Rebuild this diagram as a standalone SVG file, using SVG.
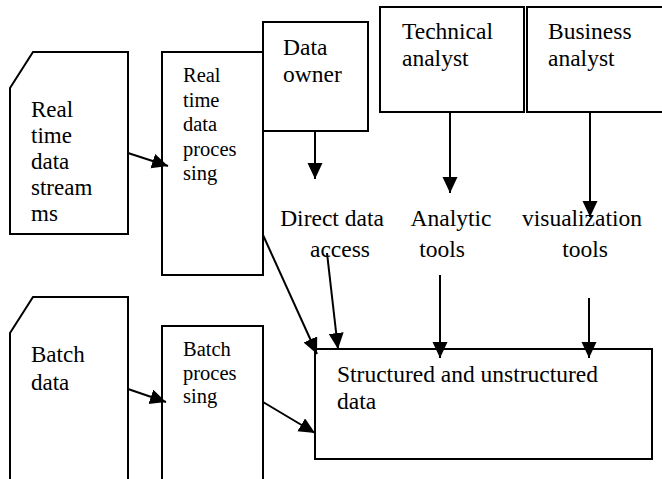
<svg xmlns="http://www.w3.org/2000/svg" width="662" height="479" viewBox="0 0 662 479">
  <style>
    .box { fill: #fff; stroke: #000; stroke-width: 2; }
    text { font-family: 'Liberation Serif', 'Times New Roman', serif; fill: #000; }
    .lg { font-size: 23.5px; }
    .md { font-size: 23px; }
    .sm { font-size: 20.5px; }
    .mid { text-anchor: middle; }
    .edge { fill: none; stroke: #000; stroke-width: 2; marker-end: url(#head); }
  </style>
  <defs>
    <marker id="head" markerUnits="userSpaceOnUse" markerWidth="17" markerHeight="16" refX="16" refY="7.5" orient="auto">
      <path d="M0,0 L16,7.5 L0,15 z" fill="#000"/>
    </marker>
  </defs>
  <rect width="662" height="479" fill="#fff"/>

  <!-- sources -->
  <g id="realtime-streams">
    <polygon class="box" points="33,52 128,52 128,234 10,234 10,88"/>
    <text class="md"><tspan x="31" y="117">Real</tspan><tspan x="31" y="143">time</tspan><tspan x="31" y="169">data</tspan><tspan x="31" y="195">stream</tspan><tspan x="31" y="221">ms</tspan></text>
  </g>
  <g id="batch-data">
    <polygon class="box" points="33,297 128,297 128,492 10,492 10,333"/>
    <text class="md"><tspan x="31" y="362">Batch</tspan><tspan x="31" y="390">data</tspan></text>
  </g>

  <!-- processing -->
  <g id="realtime-processing">
    <rect class="box" x="162" y="52" width="101" height="223"/>
    <text class="sm"><tspan x="183" y="82">Real</tspan><tspan x="183" y="106.5">time</tspan><tspan x="183" y="131">data</tspan><tspan x="183" y="155.5">proces</tspan><tspan x="183" y="180">sing</tspan></text>
  </g>
  <g id="batch-processing">
    <rect class="box" x="162" y="326" width="101" height="166"/>
    <text class="sm"><tspan x="183" y="356">Batch</tspan><tspan x="183" y="380">proces</tspan><tspan x="183" y="403">sing</tspan></text>
  </g>

  <!-- users -->
  <g id="data-owner">
    <rect class="box" x="263" y="22" width="105" height="109"/>
    <text class="lg"><tspan x="283" y="55">Data</tspan><tspan x="283" y="82">owner</tspan></text>
  </g>
  <g id="technical-analyst">
    <rect class="box" x="380" y="7" width="144" height="105"/>
    <text class="lg"><tspan x="402" y="39">Technical</tspan><tspan x="402" y="66">analyst</tspan></text>
  </g>
  <g id="business-analyst">
    <rect class="box" x="527" y="7" width="140" height="105"/>
    <text class="lg"><tspan x="548" y="39">Business</tspan><tspan x="548" y="66">analyst</tspan></text>
  </g>

  <!-- access paths -->
  <g id="direct-access">
    <text class="lg mid"><tspan x="332" y="226">Direct data</tspan><tspan x="340" y="257">access</tspan></text>
  </g>
  <g id="analytic-tools">
    <text class="lg mid"><tspan x="451" y="226">Analytic</tspan><tspan x="442" y="257">tools</tspan></text>
  </g>
  <g id="visualization-tools">
    <text class="lg mid"><tspan x="582" y="226">visualization</tspan><tspan x="585" y="257">tools</tspan></text>
  </g>

  <!-- store -->
  <g id="data-store">
    <rect class="box" x="315" y="349" width="337" height="110"/>
    <text class="lg"><tspan x="337" y="382">Structured and unstructured</tspan><tspan x="337" y="409">data</tspan></text>
  </g>

  <!-- connectors -->
  <g id="connectors">
    <path class="edge" d="M128,153 L168,166"/>
    <path class="edge" d="M128,389 L166,402"/>
    <path class="edge" d="M263,402 L315,433"/>
    <path class="edge" d="M263,235 L317,354"/>
    <path class="edge" d="M327,253 L338,349"/>
    <path class="edge" d="M315,131 L315,179"/>
    <path class="edge" d="M450,112 L450,193"/>
    <path class="edge" d="M590,112 L590,217"/>
    <path class="edge" d="M440,275 L440,358"/>
    <path class="edge" d="M589,298 L589,358"/>
  </g>
</svg>
